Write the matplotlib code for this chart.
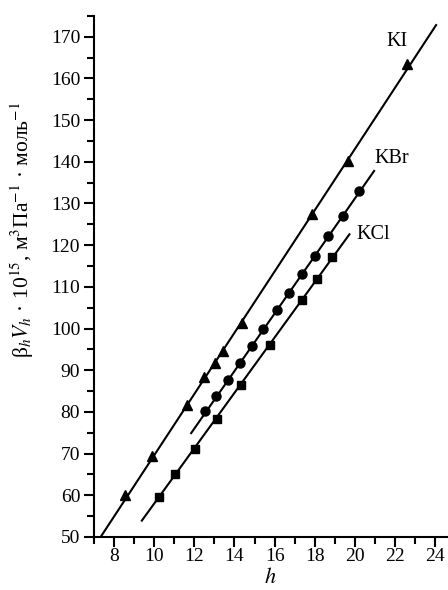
import matplotlib; matplotlib.use("Agg")
import matplotlib.pyplot as plt
from matplotlib.ticker import MultipleLocator

plt.rcParams.update({"font.family": ["Liberation Serif", "DejaVu Serif"], "mathtext.fontset": "stix",
                     "font.size": 14, "axes.linewidth": 1.5})

# ---- data ----
ki_h = [8.55, 9.88, 11.62, 12.5, 13.03, 13.41, 14.36, 17.88, 19.65, 22.62]
ki_bv = [60.0, 69.3, 81.7, 88.4, 91.8, 94.7, 101.4, 127.4, 140.2, 163.4]
kbr_h = [12.53, 13.08, 13.7, 14.28, 14.86, 15.44, 16.11, 16.74, 17.35, 18.02, 18.68, 19.43, 20.23]
kbr_bv = [80.1, 83.7, 87.7, 91.8, 95.7, 99.9, 104.4, 108.6, 113.0, 117.4, 122.2, 127.0, 132.9]
kcl_h = [10.24, 11.04, 12.03, 13.11, 14.33, 15.77, 17.35, 18.1, 18.88]
kcl_bv = [59.5, 65.1, 71.2, 78.4, 86.5, 96.0, 106.8, 111.9, 117.1]
# fitted straight lines (end points)
ki_fit_h, ki_fit_bv = [7.33, 24.05], [50.0, 172.8]
kbr_fit_h, kbr_fit_bv = [11.84, 20.96], [74.9, 137.8]
kcl_fit_h, kcl_fit_bv = [9.38, 19.73], [53.9, 122.6]

fig = plt.figure(figsize=(4.48, 5.90), dpi=100)
ax = fig.add_axes([0.21, 0.09, 0.788, 0.883])
for fh, fb in [(ki_fit_h, ki_fit_bv), (kbr_fit_h, kbr_fit_bv), (kcl_fit_h, kcl_fit_bv)]:
    ax.plot(fh, fb, color="k", lw=1.5, zorder=2)
ax.plot(ki_h, ki_bv, "^", color="k", ms=7.5, zorder=3)
ax.plot(kbr_h, kbr_bv, "o", color="k", ms=6.5, zorder=3)
ax.plot(kcl_h, kcl_bv, "s", color="k", ms=6, zorder=3)

ax.text(21.6, 168.8, "KI", fontsize=14.5, va="center")
ax.text(21.0, 140.9, "KBr", fontsize=14.5, va="center")
ax.text(20.1, 122.5, "KCl", fontsize=14.5, va="center")

ax.set_xlim(7, 24.6); ax.set_ylim(50, 175)
ax.xaxis.set_minor_locator(MultipleLocator(1))
ax.yaxis.set_minor_locator(MultipleLocator(5))
ax.set_xticks(range(8, 25, 2))
ax.set_yticks(range(50, 171, 10))
ax.tick_params(which="major", length=7, width=1.5, labelsize=14)
ax.tick_params(which="minor", length=5, width=1.5)
ax.tick_params(axis="x", which="major", pad=1)
ax.tick_params(axis="y", which="major", pad=3)
for s in ["top", "right"]:
    ax.spines[s].set_visible(False)

ax.set_xlabel("$h$", fontsize=16, labelpad=2)
ax.set_ylabel("β$_h$$V_h$ · 10$^{15}$, м$^3$Па$^{-1}$ · моль$^{-1}$", fontsize=15.5)
ax.yaxis.set_label_coords(-0.165, 0.59)

fig.savefig("out.png", dpi=100)
